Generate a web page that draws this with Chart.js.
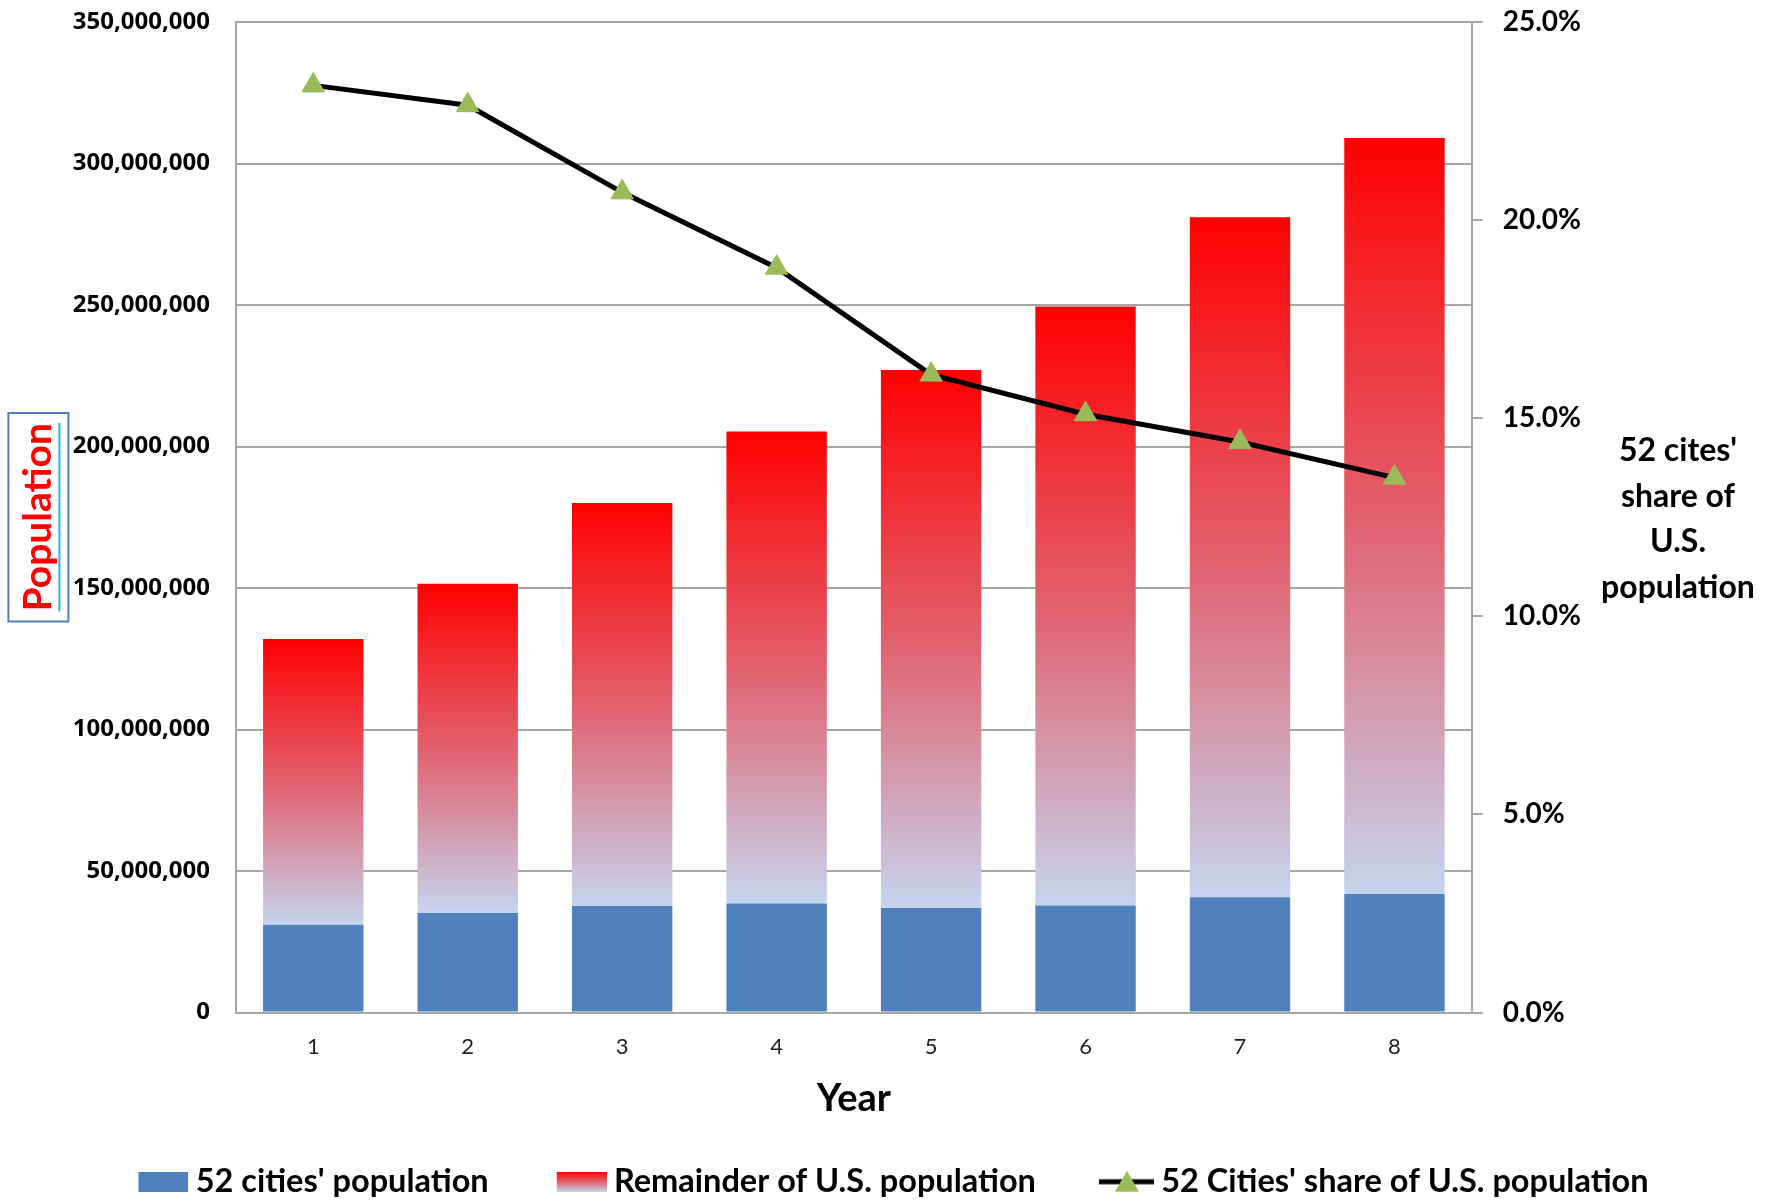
<!DOCTYPE html>
<html>
<head>
<meta charset="utf-8">
<title>52 cities' share of U.S. population</title>
<script src="https://cdn.jsdelivr.net/npm/chart.js@4.4.0/dist/chart.umd.min.js"></script>
<style>
    html, body { margin: 0; padding: 0; background: #ffffff; }
    #wrap { width: 1787px; height: 1202px; position: relative; }
</style>
</head>
<body>
<div id="wrap"><canvas id="popChart"></canvas></div>
<script>
// Dados
const years = ['1', '2', '3', '4', '5', '6', '7', '8'];
const cityPop = [31000000, 35200000, 37600000, 38500000, 36900000, 37800000, 40700000, 41900000];
const remainderPop = [101000000, 116300000, 142400000, 166800000, 190100000, 211700000, 240300000, 267100000];
const cityShare = [23.4, 22.9, 20.7, 18.8, 16.1, 15.1, 14.4, 13.5];

const seriesNames = ["52 cities' population", "Remainder of U.S. population", "52 Cities' share of U.S. population"];
const rightTitleLines = ["52 cites'", "share of", "U.S.", "population"];

// Cores
const cityColor = '#4F81BD';
const gradTop = '#FF0000';
const gradMid = '#E2606D';
const gradBottom = '#C6D4EE';
const markerColor = '#9BBB59';
const gridColor = '#A6A6A6';
const rightTitleSpace = 206;
const plotTop = 22;

function fillGradient(g, top, bottom) {
    const gr = g.createLinearGradient(0, top, 0, bottom);
    gr.addColorStop(0, gradTop);
    gr.addColorStop(0.5, gradMid);
    gr.addColorStop(1, gradBottom);
    return gr;
}

// Ícones da legenda (desenho encostado à direita para ficar perto do texto)
const iconW = 59;
function makeIcon(h, draw) {
    const c = document.createElement('canvas');
    c.width = iconW;
    c.height = h;
    draw(c.getContext('2d'), iconW, h);
    return c;
}
const blueIcon = makeIcon(20, function(g, w, h) {
    g.fillStyle = cityColor;
    g.fillRect(w - 50, 0, 50, h);
});
const redIcon = makeIcon(20, function(g, w, h) {
    g.fillStyle = fillGradient(g, 0, h);
    g.fillRect(w - 50, 0, 50, h);
});
const lineIcon = makeIcon(24, function(g, w, h) {
    g.strokeStyle = '#000000';
    g.lineWidth = 5;
    g.beginPath();
    g.moveTo(w - 55, h / 2);
    g.lineTo(w, h / 2);
    g.stroke();
    const mx = w - 27;
    g.fillStyle = markerColor;
    g.beginPath();
    g.moveTo(mx, 1);
    g.lineTo(mx + 12, h - 2);
    g.lineTo(mx - 12, h - 2);
    g.closePath();
    g.fill();
});
const legendIcons = [blueIcon, redIcon, lineIcon];

// Gradiente de cada barra vermelha
function remainderGradient(context) {
    const chart = context.chart;
    const area = chart.chartArea;
    if (!area || context.dataIndex === undefined) {
        return gradTop;
    }
    const i = context.dataIndex;
    const yScale = chart.scales.y;
    const top = yScale.getPixelForValue(cityPop[i] + remainderPop[i]);
    const bottom = yScale.getPixelForValue(cityPop[i]);
    return fillGradient(chart.ctx, top, bottom);
}

// Caixa do título "Population" e título do eixo direito
const titlesPlugin = {
    id: 'titlesPlugin',
    afterDraw: function(chart) {
        const ctx = chart.ctx;
        const area = chart.chartArea;
        const yScale = chart.scales.y;
        const midY = (area.top + area.bottom) / 2;

        // caixa em volta de "Population"
        const t = yScale.options.title;
        ctx.save();
        ctx.font = 'bold ' + t.font.size + 'px ' + t.font.family;
        const textLen = ctx.measureText(t.text).width;
        const lh = t.font.size * 1.2;
        const cx = yScale.left + t.padding.top + lh / 2;
        ctx.strokeStyle = '#4F81BD';
        ctx.lineWidth = 2;
        ctx.strokeRect(cx - 30, midY - textLen / 2 - 10, 60, textLen + 20);
        ctx.strokeStyle = '#1FB6EA';
        ctx.lineWidth = 2;
        ctx.beginPath();
        ctx.moveTo(cx + 21, midY - textLen / 2);
        ctx.lineTo(cx + 21, midY + textLen / 2);
        ctx.stroke();

        // título horizontal à direita
        const y1 = chart.scales.y1;
        const tx = y1.right - rightTitleSpace / 2 - 6;
        ctx.fillStyle = '#000000';
        ctx.font = 'bold 32px Lato';
        ctx.textAlign = 'center';
        ctx.textBaseline = 'middle';
        const step = 45.5;
        const startY = midY + 2 - step * (rightTitleLines.length - 1) / 2;
        rightTitleLines.forEach(function(line, k) {
            ctx.fillText(line, tx, startY + k * step);
        });
        ctx.restore();
    }
};

const ctx = document.getElementById('popChart').getContext('2d');
const popChart = new Chart(ctx, {
    type: 'bar',
    data: {
        labels: years,
        datasets: [
            {
                label: seriesNames[0],
                data: cityPop,
                backgroundColor: cityColor,
                yAxisID: 'y',
                stack: 'pop',
                order: 1
            },
            {
                label: seriesNames[1],
                data: remainderPop,
                backgroundColor: remainderGradient,
                yAxisID: 'y',
                stack: 'pop',
                order: 1
            },
            {
                type: 'line',
                label: seriesNames[2],
                data: cityShare,
                yAxisID: 'y1',
                borderColor: '#000000',
                borderWidth: 5,
                tension: 0,
                pointStyle: 'triangle',
                pointRadius: 13,
                pointHoverRadius: 13,
                pointBackgroundColor: markerColor,
                pointBorderColor: markerColor,
                pointBorderWidth: 1,
                order: 0
            }
        ]
    },
    options: {
        responsive: true,
        maintainAspectRatio: false,
        devicePixelRatio: 1,
        animation: false,
        datasets: {
            bar: { barPercentage: 0.65, categoryPercentage: 1.0 }
        },
        layout: { padding: { top: 0, right: 0, left: 0, bottom: -6 } },
        plugins: {
            tooltip: { enabled: false },
            legend: {
                position: 'bottom',
                labels: {
                    usePointStyle: true,
                    pointStyleWidth: 41,
                    boxHeight: 20,
                    padding: 68,
                    color: '#000000',
                    font: { family: 'Lato', size: 32.5, weight: 'bold' },
                    sort: function(a, b) { return a.datasetIndex - b.datasetIndex; },
                    generateLabels: function(chart) {
                        const items = Chart.defaults.plugins.legend.labels.generateLabels(chart);
                        items.forEach(function(it) { it.pointStyle = legendIcons[it.datasetIndex]; });
                        return items;
                    }
                }
            }
        },
        scales: {
            x: {
                stacked: true,
                grid: { drawOnChartArea: false, drawTicks: false },
                border: { color: gridColor, width: 2 },
                ticks: {
                    padding: 21,
                    color: '#222222',
                    font: { family: 'Lato', size: 22 }
                },
                title: {
                    display: true,
                    text: 'Year',
                    color: '#000000',
                    font: { family: 'Lato', size: 38, weight: 'bold' },
                    padding: { top: 16, bottom: -24 }
                },
                afterFit: function(scale) { scale.height -= scale.options.ticks.padding; }
            },
            y: {
                stacked: true,
                position: 'left',
                min: 0,
                max: 350000000,
                ticks: {
                    stepSize: 50000000,
                    padding: 26,
                    color: '#000000',
                    font: { family: 'Noto Sans', size: 24, weight: 'bold' },
                    callback: function(v) { return v.toLocaleString('en-US'); }
                },
                grid: { color: gridColor, lineWidth: 2, drawTicks: false },
                border: { color: gridColor, width: 2 },
                title: {
                    display: true,
                    text: 'Population',
                    color: '#FF0000',
                    font: { family: 'Lato', size: 39, weight: 'bold' },
                    padding: { top: 15, bottom: 11 }
                },
                afterFit: function(scale) {
                    scale.width -= scale.options.ticks.padding;
                    scale.paddingTop = plotTop;
                }
            },
            y1: {
                position: 'right',
                min: 0,
                max: 25,
                ticks: {
                    stepSize: 5,
                    padding: 20,
                    color: '#000000',
                    font: { family: 'Lato', size: 28, weight: 'bold' },
                    callback: function(v) { return v.toFixed(1) + '%'; }
                },
                grid: { drawOnChartArea: false, color: gridColor, lineWidth: 2, tickLength: 11 },
                border: { color: gridColor, width: 2 },
                afterFit: function(scale) {
                    scale.width += rightTitleSpace - scale.options.ticks.padding;
                    scale.paddingTop = plotTop;
                }
            }
        }
    },
    plugins: [titlesPlugin]
});
</script>
</body>
</html>
